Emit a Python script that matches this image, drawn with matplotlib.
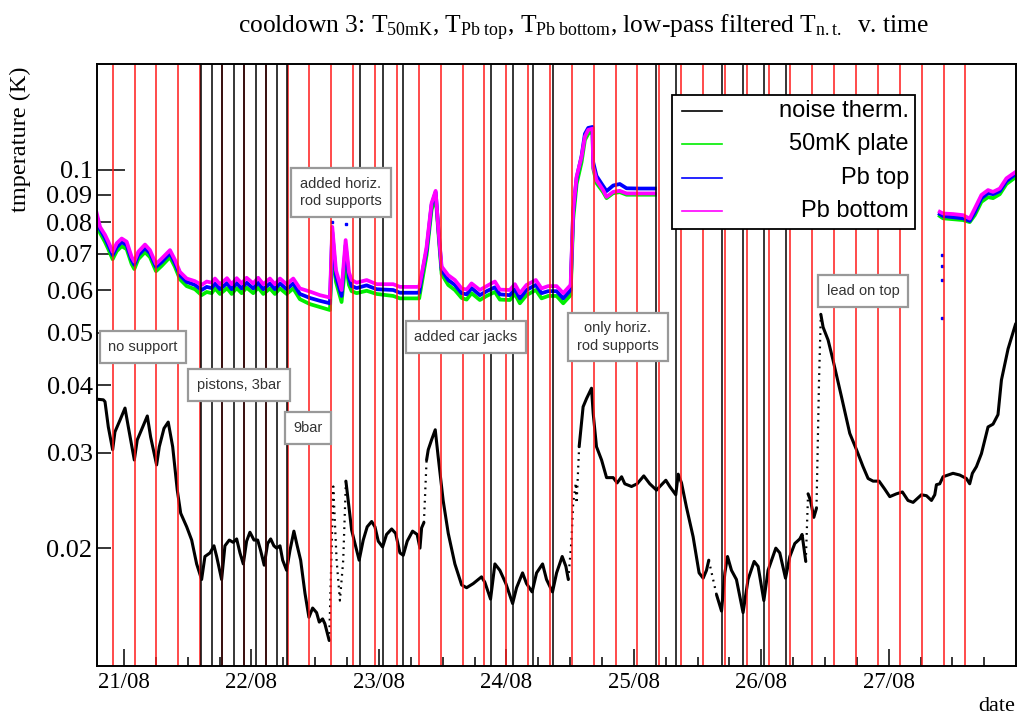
import numpy as np
import matplotlib
matplotlib.use("Agg")
import matplotlib.pyplot as plt
from matplotlib.patches import Rectangle
from matplotlib.lines import Line2D
from matplotlib.ticker import FixedLocator, FixedFormatter

plt.rcParams['font.family'] = ['Liberation Serif', 'DejaVu Serif']
plt.rcParams['mathtext.fontset'] = 'custom'
plt.rcParams['mathtext.rm'] = 'Liberation Serif'
plt.rcParams['mathtext.it'] = 'Liberation Serif:italic'
plt.rcParams['mathtext.bf'] = 'Liberation Serif:bold'

# time in days since 21/08 00:00
day_ticks = [0, 1, 2, 3, 4, 5, 6]
day_labels = ['21/08', '22/08', '23/08', '24/08', '25/08', '26/08', '27/08']
quarter_ticks = [0.25, 0.5, 0.75, 1.25, 1.5, 1.75, 2.25, 2.5, 2.75, 3.25, 3.5, 3.75,
                 4.25, 4.5, 4.75, 5.25, 5.5, 5.75, 6.25, 6.5, 6.75]
y_ticks = [0.02, 0.03, 0.04, 0.05, 0.06, 0.07, 0.08, 0.09]
y_labels = ['0.02', '0.03', '0.04', '0.05', '0.06', '0.07', '0.08', '0.09']

# low-pass filtered noise thermometer
nt_t = [-0.214, -0.162, -0.149, -0.123, -0.089, -0.071, -0.031, 0.008, 0.034, 0.081,
        0.104, 0.147, 0.183, 0.209, 0.256, 0.277, 0.314, 0.347, 0.382, 0.418,
        0.445, 0.492, 0.531, 0.570, 0.609, 0.635, 0.675, 0.706, 0.727, 0.766,
        0.792, 0.826, 0.857, 0.884, 0.910, 0.936, 0.962, 0.988, 1.020, 1.049,
        1.072, 1.100, 1.127, 1.151, 1.176, 1.198, 1.224, 1.245, 1.276, 1.302,
        1.333, 1.359, 1.386, 1.420, 1.451, 1.480, 1.511, 1.532, 1.558, 1.576,
        1.610, 1.642, 1.668, 1.694, 1.720, 1.741, 1.759, 1.786, 1.812, 1.845,
        1.877, 1.908, 1.943, 1.969, 1.995, 2.029, 2.060, 2.100, 2.131, 2.165,
        2.191, 2.222, 2.264, 2.300, 2.322, 2.335, 2.353, 2.374, 2.387, 2.413,
        2.442, 2.465, 2.504, 2.544, 2.596, 2.649, 2.688, 2.740, 2.805, 2.831,
        2.876, 2.910, 2.949, 2.996, 3.049, 3.080, 3.127, 3.158, 3.202, 3.237,
        3.284, 3.315, 3.362, 3.394, 3.438, 3.467, 3.486, 3.511, 3.524, 3.545,
        3.551, 3.571, 3.602, 3.629, 3.668, 3.681, 3.707, 3.747, 3.786, 3.838,
        3.869, 3.904, 3.929, 3.982, 4.026, 4.078, 4.125, 4.178, 4.204, 4.251,
        4.282, 4.329, 4.348, 4.374, 4.413, 4.465, 4.512, 4.544, 4.570, 4.588,
        4.649, 4.688, 4.714, 4.735, 4.766, 4.805, 4.857, 4.896, 4.944, 4.975,
        5.020, 5.053, 5.114, 5.145, 5.190, 5.224, 5.263, 5.302, 5.320, 5.349,
        5.367, 5.386, 5.412, 5.433, 5.453, 5.467, 5.485, 5.524, 5.563, 5.629,
        5.694, 5.747, 5.798, 5.838, 5.877, 5.924, 5.969, 6.008, 6.060, 6.107,
        6.151, 6.191, 6.256, 6.296, 6.335, 6.361, 6.374, 6.400, 6.426, 6.465,
        6.504, 6.557, 6.609, 6.635, 6.656, 6.688, 6.727, 6.779, 6.818, 6.857,
        6.884, 6.936, 6.996]
nt_T = [0.0377, 0.0376, 0.0373, 0.0335, 0.0304, 0.0328, 0.0345, 0.0363, 0.0335, 0.0291,
        0.0317, 0.0335, 0.0351, 0.0321, 0.0285, 0.0308, 0.0333, 0.0342, 0.0308, 0.0256,
        0.0232, 0.0219, 0.0207, 0.0187, 0.0175, 0.0193, 0.0196, 0.0202, 0.0193, 0.0175,
        0.0202, 0.0207, 0.0205, 0.0208, 0.0196, 0.0187, 0.0206, 0.0214, 0.0207, 0.0207,
        0.0198, 0.0186, 0.0204, 0.0208, 0.0202, 0.0200, 0.0202, 0.0190, 0.0182, 0.0198,
        0.0215, 0.0202, 0.0190, 0.0165, 0.0149, 0.0155, 0.0152, 0.0146, 0.0148, 0.0145,
        0.0135, 0.0260, 0.0190, 0.0160, 0.0190, 0.0266, 0.0245, 0.0216, 0.0204, 0.0190,
        0.0207, 0.0219, 0.0224, 0.0219, 0.0206, 0.0201, 0.0212, 0.0217, 0.0213, 0.0196,
        0.0194, 0.0206, 0.0215, 0.0212, 0.0200, 0.0218, 0.0223, 0.0291, 0.0304, 0.0317,
        0.0331, 0.0295, 0.0245, 0.0213, 0.0187, 0.0171, 0.0169, 0.0172, 0.0177, 0.0173,
        0.0161, 0.0187, 0.0182, 0.0172, 0.0158, 0.0169, 0.0180, 0.0172, 0.0166, 0.0180,
        0.0187, 0.0175, 0.0166, 0.0180, 0.0193, 0.0185, 0.0175, 0.0207, 0.0242, 0.0264,
        0.0242, 0.0308, 0.0365, 0.0378, 0.0395, 0.0355, 0.0308, 0.0291, 0.0270, 0.0270,
        0.0264, 0.0271, 0.0263, 0.0260, 0.0263, 0.0272, 0.0263, 0.0256, 0.0260, 0.0267,
        0.0260, 0.0251, 0.0274, 0.0264, 0.0238, 0.0210, 0.0180, 0.0176, 0.0182, 0.0190,
        0.0164, 0.0153, 0.0180, 0.0193, 0.0182, 0.0175, 0.0152, 0.0175, 0.0189, 0.0185,
        0.0160, 0.0182, 0.0200, 0.0196, 0.0176, 0.0193, 0.0204, 0.0208, 0.0212, 0.0189,
        0.0252, 0.0245, 0.0228, 0.0237, 0.0409, 0.0541, 0.0512, 0.0485, 0.0445, 0.0381,
        0.0326, 0.0304, 0.0283, 0.0269, 0.0266, 0.0266, 0.0257, 0.0249, 0.0252, 0.0254,
        0.0245, 0.0243, 0.0251, 0.0250, 0.0245, 0.0251, 0.0262, 0.0263, 0.0271, 0.0273,
        0.0275, 0.0273, 0.0269, 0.0263, 0.0275, 0.0283, 0.0299, 0.0335, 0.0339, 0.0353,
        0.0409, 0.0467, 0.0520]
# fast transitions, drawn as sparse points
nt_fast_spans = [(1.60, 1.75), (2.35, 2.38), (3.48, 3.58), (4.58, 4.65),
                 (5.345, 5.37), (5.43, 5.47)]

# 50mK plate, Pb top, Pb bottom (nan = no data)
nan = np.nan
pb_t = [-0.214, -0.188, -0.149, -0.123, -0.089, -0.057, -0.018, 0.021, 0.060, 0.081,
        0.112, 0.165, 0.204, 0.251, 0.296, 0.361, 0.400, 0.439, 0.492, 0.557,
        0.609, 0.649, 0.688, 0.714, 0.753, 0.792, 0.808, 0.845, 0.884, 0.923,
        0.962, 1.014, 1.053, 1.093, 1.145, 1.184, 1.224, 1.276, 1.328, 1.380,
        1.459, 1.537, 1.616, 1.634, 1.663, 1.707, 1.739, 1.765, 1.786, 1.825,
        1.904, 1.982, 2.112, 2.165, 2.316, 2.347, 2.374, 2.413, 2.445, 2.465,
        2.492, 2.544, 2.596, 2.649, 2.688, 2.727, 2.792, 2.845, 2.910, 2.949,
        3.027, 3.067, 3.106, 3.158, 3.231, 3.276, 3.328, 3.394, 3.446, 3.504,
        3.524, 3.551, 3.590, 3.616, 3.642, 3.676, 3.681, 3.707, 3.759, 3.786,
        3.838, 3.890, 3.943, 4.047, 4.165, nan, 6.400, 6.426, 6.504, 6.583,
        6.635, 6.675, 6.727, 6.779, 6.818, 6.871, 6.923, 6.996]
T_pbbot = [0.0832, 0.0785, 0.0759, 0.0737, 0.0706, 0.0732, 0.0747, 0.0737, 0.0691, 0.0677,
           0.0706, 0.0728, 0.0711, 0.0670, 0.0686, 0.0711, 0.0682, 0.0648, 0.0630, 0.0623,
           0.0613, 0.0622, 0.0619, 0.0630, 0.0615, 0.0626, 0.0631, 0.0615, 0.0631, 0.0617,
           0.0632, 0.0617, 0.0632, 0.0615, 0.0630, 0.0615, 0.0630, 0.0615, 0.0630, 0.0604,
           0.0596, 0.0587, 0.0581, 0.0785, 0.0653, 0.0600, 0.0742, 0.0647, 0.0626, 0.0619,
           0.0626, 0.0615, 0.0615, 0.0608, 0.0608, 0.0663, 0.0721, 0.0868, 0.0915, 0.0785,
           0.0663, 0.0639, 0.0626, 0.0604, 0.0601, 0.0617, 0.0600, 0.0610, 0.0622, 0.0601,
           0.0600, 0.0615, 0.0592, 0.0613, 0.0626, 0.0604, 0.0610, 0.0610, 0.0592, 0.0613,
           0.0843, 0.0972, 0.1058, 0.1152, 0.1186, 0.1192, 0.1013, 0.0958, 0.0918, 0.0892,
           0.0911, 0.0915, 0.0905, 0.0905, 0.0905, nan, 0.0837, 0.0831, 0.0829, 0.0825,
           0.0813, 0.0849, 0.0899, 0.0918, 0.0911, 0.0924, 0.0965, 0.0992]
T_pbtop = [0.0822, 0.0777, 0.0749, 0.0726, 0.0696, 0.0720, 0.0736, 0.0726, 0.0682, 0.0668,
           0.0696, 0.0717, 0.0702, 0.0662, 0.0676, 0.0702, 0.0673, 0.0639, 0.0621, 0.0613,
           0.0600, 0.0608, 0.0605, 0.0617, 0.0602, 0.0613, 0.0618, 0.0602, 0.0618, 0.0604,
           0.0619, 0.0604, 0.0619, 0.0602, 0.0617, 0.0602, 0.0617, 0.0602, 0.0617, 0.0590,
           0.0580, 0.0573, 0.0567, 0.0768, 0.0636, 0.0585, 0.0726, 0.0631, 0.0610, 0.0605,
           0.0612, 0.0602, 0.0600, 0.0593, 0.0593, 0.0659, 0.0711, 0.0861, 0.0910, 0.0787,
           0.0653, 0.0626, 0.0613, 0.0592, 0.0589, 0.0605, 0.0587, 0.0597, 0.0607, 0.0589,
           0.0587, 0.0602, 0.0579, 0.0600, 0.0613, 0.0592, 0.0597, 0.0597, 0.0579, 0.0600,
           0.0836, 0.0966, 0.1061, 0.1166, 0.1196, 0.1201, 0.1034, 0.0975, 0.0934, 0.0914,
           0.0936, 0.0942, 0.0925, 0.0924, 0.0924, nan, 0.0829, 0.0822, 0.0818, 0.0814,
           0.0805, 0.0836, 0.0887, 0.0906, 0.0902, 0.0914, 0.0954, 0.0983]
T_50mK = [0.0811, 0.0765, 0.0736, 0.0714, 0.0684, 0.0708, 0.0723, 0.0714, 0.0670, 0.0656,
          0.0684, 0.0705, 0.0690, 0.0650, 0.0665, 0.0690, 0.0662, 0.0628, 0.0610, 0.0602,
          0.0587, 0.0595, 0.0592, 0.0604, 0.0590, 0.0600, 0.0605, 0.0590, 0.0605, 0.0592,
          0.0606, 0.0592, 0.0606, 0.0590, 0.0604, 0.0590, 0.0604, 0.0590, 0.0604, 0.0577,
          0.0565, 0.0558, 0.0551, 0.0711, 0.0621, 0.0570, 0.0676, 0.0613, 0.0597, 0.0592,
          0.0598, 0.0590, 0.0585, 0.0579, 0.0579, 0.0639, 0.0696, 0.0843, 0.0895, 0.0775,
          0.0642, 0.0613, 0.0600, 0.0580, 0.0576, 0.0592, 0.0575, 0.0585, 0.0595, 0.0576,
          0.0575, 0.0590, 0.0567, 0.0587, 0.0600, 0.0579, 0.0585, 0.0585, 0.0567, 0.0587,
          0.0808, 0.0942, 0.1034, 0.1136, 0.1166, 0.1181, 0.1008, 0.0946, 0.0910, 0.0887,
          0.0906, 0.0910, 0.0900, 0.0900, 0.0900, nan, 0.0822, 0.0814, 0.0811, 0.0808,
          0.0801, 0.0825, 0.0873, 0.0891, 0.0887, 0.0902, 0.0942, 0.0970]
stray_t = [1.634, 1.739, 6.416, 6.416, 6.416, 6.416]
stray_T = [0.0800, 0.0793, 0.0696, 0.0665, 0.0626, 0.0532]

# event markers
red_lines = [-0.089, 0.083, 0.254, 0.426, 0.597, 0.769, 0.940, 1.112, 1.284, 1.455,
             1.627, 1.798, 1.970, 2.141, 2.313, 2.484, 2.656, 2.827, 2.999, 3.170,
             3.342, 3.514, 3.685, 3.857, 4.028, 4.200, 4.371, 4.543, 4.714, 4.886,
             5.057, 5.229, 5.400, 5.572, 5.744, 5.915, 6.087, 6.258, 6.430, 6.601]
black_lines = [0.604, 0.690, 0.769, 0.863, 0.941, 1.035, 1.114, 1.200, 1.278, 1.851,
               2.031, 2.188, 2.878, 3.051, 3.208, 3.365, 4.173, 4.329, 4.690, 4.855,
               5.020, 5.192]

notes = ['no support', 'pistons, 3bar', '9bar', 'added horiz.\nrod supports',
         'added car jacks', 'only horiz.\nrod supports', 'lead on top']
notes_xy = [(0.0504, 0.530), (0.1549, 0.467), (0.2298, 0.395), (0.2657, 0.787),
            (0.4017, 0.5465), (0.5670, 0.5465), (0.8335, 0.623)]

fig = plt.figure(figsize=(10.18, 7.23), dpi=100)
ax = fig.add_axes([0.095, 0.0788, 0.9030, 0.8327])
ax.set_yscale('log')

# noise thermometer: solid where dense, dotted in fast jumps
t = np.array(nt_t)
T = np.array(nt_T)
fast = np.zeros(len(t) - 1, bool)
for a, b in nt_fast_spans:
    fast |= (t[:-1] >= a) & (t[1:] <= b)
start = 0
for i in range(1, len(fast) + 1):
    if i == len(fast) or fast[i] != fast[start]:
        s = slice(start, i + 1)
        if fast[start]:
            ax.plot(t[s], T[s], color='k', lw=1.6, ls=(0, (0.8, 2.2)), zorder=3)
        else:
            ax.plot(t[s], T[s], color='k', lw=2.2, solid_capstyle='round',
                    solid_joinstyle='round', zorder=3)
        start = i

ax.plot(pb_t, T_50mK, color='#00ee00', lw=2.7, zorder=3)
ax.plot(pb_t, T_pbtop, color='#0000ff', lw=2.7, zorder=3)
ax.plot(pb_t, T_pbbot, color='#ff00ff', lw=2.7, zorder=3)
ax.plot(stray_t, stray_T, ls='none', marker='s', ms=1.6, color='#0000ff', zorder=3)

for x in red_lines:
    ax.axvline(x, color='#ff1a1a', lw=1.1, zorder=4)
for x in black_lines:
    ax.axvline(x, color='black', lw=1.1, zorder=4)

ax.set_xlim(-0.214, 6.998)
ax.set_ylim(0.01211, 0.157)

ax.xaxis.set_major_locator(FixedLocator(day_ticks))
ax.xaxis.set_major_formatter(FixedFormatter(day_labels))
ax.xaxis.set_minor_locator(FixedLocator(quarter_ticks))
ax.yaxis.set_major_locator(FixedLocator([0.1]))
ax.yaxis.set_major_formatter(FixedFormatter(['0.1']))
ax.yaxis.set_minor_locator(FixedLocator(y_ticks))
ax.yaxis.set_minor_formatter(FixedFormatter(y_labels))
ax.tick_params(axis='x', which='major', direction='in', length=12.5, width=1.1,
               labelsize=16.5, pad=4)
ax.tick_params(axis='x', which='minor', direction='in', length=6.5, width=1.1)
ax.tick_params(axis='y', which='major', direction='in', length=20, width=1.1,
               labelsize=19, pad=3)
ax.tick_params(axis='y', which='minor', direction='in', length=10, width=1.1,
               labelsize=19, pad=3)
for sp in ax.spines.values():
    sp.set_linewidth(1.4)
    sp.set_zorder(8)

for txt, (x, y) in zip(notes, notes_xy):
    ax.text(x, y, txt, transform=ax.transAxes, ha='center', va='center',
            fontsize=10.5, family='Liberation Sans', color='#333333', linespacing=1.3,
            zorder=6, bbox=dict(boxstyle='square,pad=0.6', fc='white', ec='#999999', lw=1.6))

# legend
ax.add_patch(Rectangle((0.6258, 0.7259), 0.2642, 0.2226, transform=ax.transAxes,
                       fc='white', ec='black', lw=1.3, zorder=7))
leg_names = ['noise therm.', '50mK plate', 'Pb top', 'Pb bottom']
leg_colors = ['black', '#00ee00', '#0000ff', '#ff00ff']
leg_y = [0.9219, 0.8671, 0.8106, 0.7558]
for name, c, y in zip(leg_names, leg_colors, leg_y):
    ax.add_line(Line2D([0.6365, 0.6800], [y, y], transform=ax.transAxes, color=c,
                       lw=1.2, zorder=8))
    ax.text(0.8835, y, name, transform=ax.transAxes, ha='right', va='center',
            fontsize=17, family='Liberation Sans', zorder=8)

fig.text(0.5727, 0.962, r'cooldown 3: T$_{\rm 50mK}$, T$_{\rm Pb\ top}$, T$_{\rm Pb\ bottom}$, '
         r'low-pass filtered T$_{\rm n.t.}$  v. time', ha='center', va='center', fontsize=18.4)
fig.text(0.0196, 0.908, 'tmperature (K)', rotation=90, ha='center', va='top', fontsize=17.5)
fig.text(0.997, 0.01, 'date', ha='right', va='bottom', fontsize=16)

fig.savefig('out.png', dpi=100)
